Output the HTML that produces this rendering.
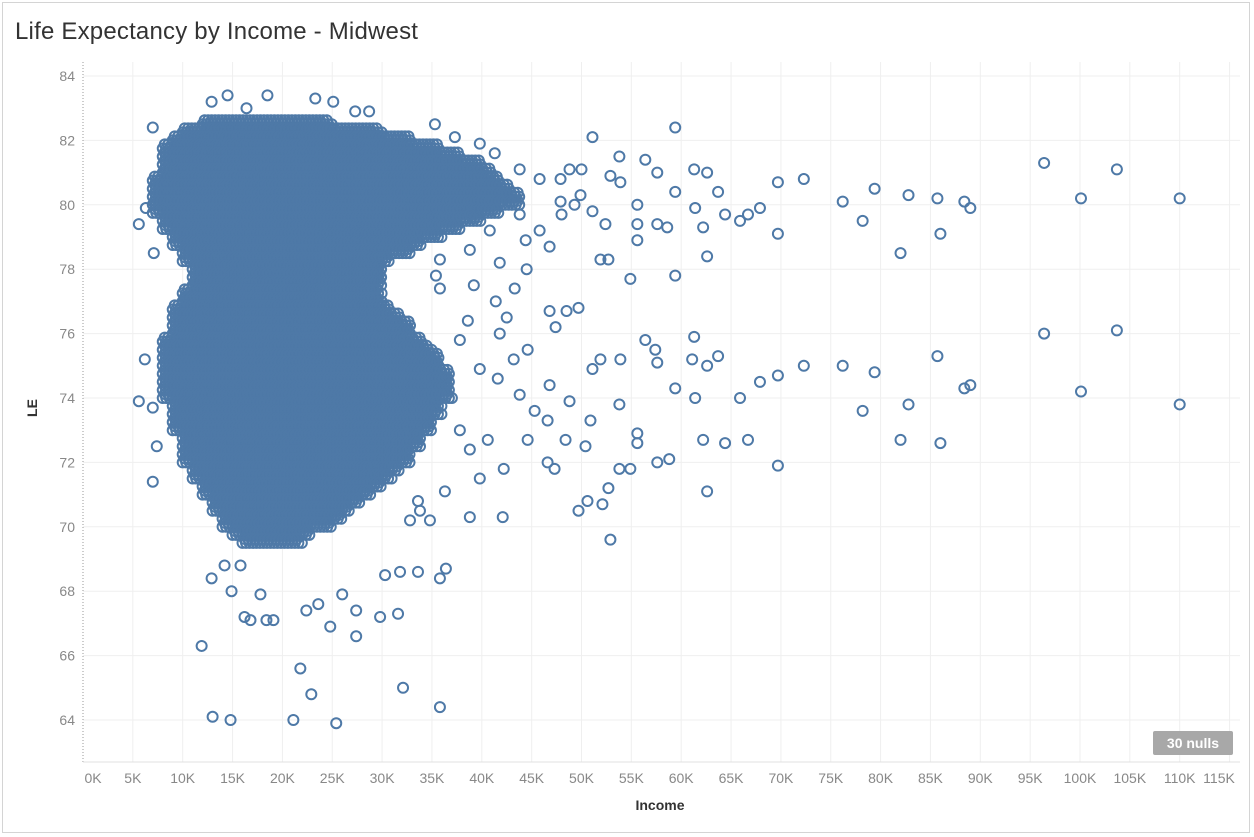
<!DOCTYPE html>
<html><head><meta charset="utf-8">
<style>
html,body{margin:0;padding:0;background:#fff;}
body{width:1254px;height:837px;overflow:hidden;font-family:"Liberation Sans",sans-serif;}
#frame{position:absolute;left:2px;top:2px;width:1248px;height:831px;border:1px solid #d4d4d4;box-sizing:border-box;}
#title{position:absolute;left:15px;top:18px;font-size:24px;color:#333;font-weight:300;letter-spacing:0.2px;}
#nulls{position:absolute;left:1153px;top:731px;width:80px;height:24px;background:#a8a8a8;color:#fff;font-weight:bold;font-size:14px;line-height:24px;text-align:center;border-radius:2px;}
</style></head><body>
<div id="frame"></div>
<div id="title">Life Expectancy by Income - Midwest</div>
<svg id="chart" width="1254" height="837" style="position:absolute;left:0;top:0"></svg>
<div id="nulls">30 nulls</div>
<script>
const xTicks=[0,5,10,15,20,25,30,35,40,45,50,55,60,65,70,75,80,85,90,95,100,105,110,115];
const yTicks=[64,66,68,70,72,74,76,78,80,82,84];
// dense core: LE level, income range start/end (K)
const coreLE=[82.5,82.25,82,81.75,81.5,81.25,81,80.75,80.5,80.25,80,79.75,79.5,79.25,79,78.75,78.5,78.25,78,77.75,77.5,77.25,77,76.75,76.5,76.25,76,75.75,75.5,75.25,75,74.75,74.5,74.25,74,73.75,73.5,73.25,73,72.75,72.5,72.25,72,71.75,71.5,71.25,71,70.75,70.5,70.25,70,69.75,69.5];
const coreLo=[12,10,9,8,8,8,8,7,7,7,7,7,8,8,9,9,10,10,11,11,11,10,10,9,9,9,9,8,8,8,8,8,8,8,8,9,9,9,9,10,10,10,10,11,11,12,12,13,13,14,14,15,16];
const coreHi=[25,30,33,36,38,40,41,42,43,44,44,42,40,38,36,34,33,31,30,30,30,30,30,31,32,33,33,34,35,36,36,37,37,37,37,36,36,35,35,34,34,33,33,32,31,30,29,28,27,26,25,23,22];
// individual scattered points
const ptInc=[110,103.7,96.4,100.1,89,88.4,86,85.7,82.8,82,79.4,78.2,76.2,72.3,69.7,69.7,67.9,66.7,65.9,64.4,63.7,62.6,62.2,62.6,61.3,61.4,59.4,59.4,59.4,58.6,57.6,57.6,56.4,55.6,55.6,55.6,54.9,53.8,52.9,53.9,52.4,51.9,52.7,51.1,51.1,
110,103.7,100.1,96.4,89,88.4,86,85.7,82.8,82,79.4,78.2,76.2,72.3,69.7,69.7,67.9,66.7,65.9,64.4,63.7,62.6,62.6,62.2,61.3,61.4,61.1,59.4,58.8,57.6,56.4,57.4,57.6,55.6,55.6,54.9,53.8,53.8,52.9,52.7,52.1,50.6,49.7,51.9,53.9,51.1,
11.9,13,14.8,21.1,21.8,22.9,25.4,32.1,35.8,27.4,29.8,31.6,24.8,22.4,23.6,26,27.4,16.2,16.8,18.4,19.1,14.9,17.8,35.8,36.4,33.6,31.8,30.3,12.9,14.2,15.8,
5.6,6.3,5.6,7,7.4,7,7.1,6.2,7,
12.9,14.5,18.5,16.4,23.3,25.1,27.3,28.7,35.3,
35.8,38.8,41.8,44.5,38.6,42.5,46.8,48.5,49.7,47.4,44.6,43.2,39.8,41.6,46.8,48.8,46.6,44.6,42.2,39.8,42.1,38.8,46.6,47.3,37.8,37,45.8,44.4,48,49.3,47.9,45.8,43.8,41.3,39.8,37.3,49.9,47.9,42.8,43.8,40.8,38.8,50,48.8,46.8,43.3,41.4,39.2,35.8,35.4,37.8,41.8,43.8,45.3,48.4,50.4,50.9,38.8,40.6,36.3,34.8,33.8,32.8,33.6];
const ptLE=[80.2,81.1,81.3,80.2,79.9,80.1,79.1,80.2,80.3,78.5,80.5,79.5,80.1,80.8,80.7,79.1,79.9,79.7,79.5,79.7,80.4,78.4,79.3,81,81.1,79.9,77.8,80.4,82.4,79.3,81,79.4,81.4,79.4,80,78.9,77.7,81.5,80.9,80.7,79.4,78.3,78.3,82.1,79.8,
73.8,76.1,74.2,76,74.4,74.3,72.6,75.3,73.8,72.7,74.8,73.6,75,75,74.7,71.9,74.5,72.7,74,72.6,75.3,71.1,75,72.7,75.9,74,75.2,74.3,72.1,72,75.8,75.5,75.1,72.6,72.9,71.8,73.8,71.8,69.6,71.2,70.7,70.8,70.5,75.2,75.2,74.9,
66.3,64.1,64,64,65.6,64.8,63.9,65,64.4,66.6,67.2,67.3,66.9,67.4,67.6,67.9,67.4,67.2,67.1,67.1,67.1,68,67.9,68.4,68.7,68.6,68.6,68.5,68.4,68.8,68.8,
79.4,79.9,73.9,71.4,72.5,73.7,78.5,75.2,82.4,
83.2,83.4,83.4,83,83.3,83.2,82.9,82.9,82.5,
78.3,78.6,78.2,78,76.4,76.5,76.7,76.7,76.8,76.2,75.5,75.2,74.9,74.6,74.4,73.9,73.3,72.7,71.8,71.5,70.3,70.3,72,71.8,73,74,79.2,78.9,79.7,80,80.8,80.8,81.1,81.6,81.9,82.1,80.3,80.1,80.1,79.7,79.2,79.7,81.1,81.1,78.7,77.4,77,77.5,77.4,77.8,75.8,76,74.1,73.6,72.7,72.5,73.3,72.4,72.7,71.1,70.2,70.5,70.2,70.8];

const NS='http://www.w3.org/2000/svg';
const svg=document.getElementById('chart');
const X=k=>83+9.97*k;
const Y=v=>76+(84-v)*32.2;
function mk(t,a){const e=document.createElementNS(NS,t);for(const k in a)e.setAttribute(k,a[k]);svg.appendChild(e);return e;}
xTicks.forEach(t=>{if(t===0)return;const l=mk('line',{x1:X(t),x2:X(t),y1:62,y2:762,stroke:'#efefef','stroke-width':1});

});
yTicks.forEach(t=>{const l=mk('line',{x1:83,x2:1240,y1:Y(t),y2:Y(t),stroke:'#efefef','stroke-width':1});

});
const ax=mk('line',{x1:83,x2:83,y1:62,y2:762,stroke:'#999','stroke-width':1,'stroke-dasharray':'1,2'});


const bx=mk('line',{x1:83,x2:1240,y1:762,y2:762,stroke:'#e0e0e0','stroke-width':1});


xTicks.forEach(t=>{let cx=X(t);if(t===0)cx=93;if(t===115)cx=1219;const e=mk('text',{x:cx,y:783,'text-anchor':'middle','font-size':14,fill:'#888','font-family':'Liberation Sans, sans-serif'});e.textContent=t+'K';

});
yTicks.forEach(t=>{const e=mk('text',{x:75,y:Y(t)+5,'text-anchor':'end','font-size':14,fill:'#888','font-family':'Liberation Sans, sans-serif'});e.textContent=t;

});
const xt=mk('text',{x:660,y:810,'text-anchor':'middle','font-size':14,fill:'#333','font-weight':'bold','font-family':'Liberation Sans, sans-serif'});xt.textContent='Income';


const yt=mk('text',{x:0,y:0,'text-anchor':'middle','font-size':14,fill:'#333','font-weight':'bold','font-family':'Liberation Sans, sans-serif',transform:'translate(37,408) rotate(-90)'});yt.textContent='LE';


const col='#4e79a7';
const g=mk('g',{fill:'none',stroke:col,'stroke-width':2});


function dot(k,v){const c=document.createElementNS(NS,'circle');c.setAttribute('cx',X(k));c.setAttribute('cy',Y(v));c.setAttribute('r',5);


g.appendChild(c);}
coreLE.forEach((v,i)=>{
  for(let k=coreLo[i];k<=coreHi[i];k+=0.35)dot(k,v);
  for(let k=coreLo[i]+0.2;k<=coreHi[i]-0.2;k+=0.35)dot(k,v+0.125);
});
ptInc.forEach((k,i)=>dot(k,ptLE[i]));
</script>
</body></html>
